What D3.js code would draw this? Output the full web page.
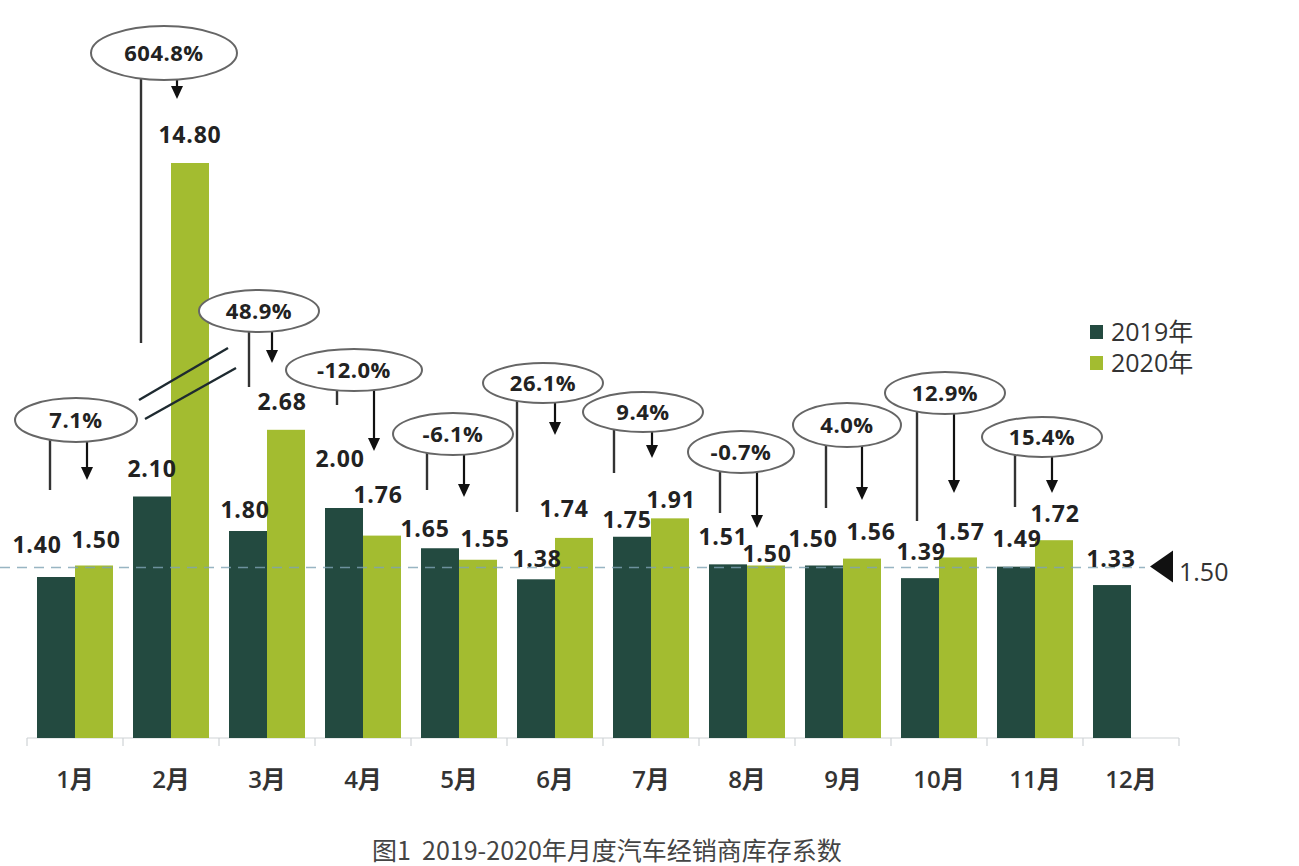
<!DOCTYPE html>
<html><head><meta charset="utf-8">
<script src="https://cdn.jsdelivr.net/npm/d3@7"></script>
<style>
html,body{margin:0;padding:0;background:#fff;}
svg{display:block;}
</style></head>
<body>
<svg id="chart" width="1299" height="866"></svg>
<script>
// ---- data ----
const months = ['1月','2月','3月','4月','5月','6月','7月','8月','9月','10月','11月','12月'];
const series = ['2019年','2020年'];
const values2019 = [1.40, 2.10, 1.80, 2.00, 1.65, 1.38, 1.75, 1.51, 1.50, 1.39, 1.49, 1.33];
const values2020 = [1.50, 14.80, 2.68, 1.76, 1.55, 1.74, 1.91, 1.50, 1.56, 1.57, 1.72];
const yoyChange = ['7.1%','604.8%','48.9%','-12.0%','-6.1%','26.1%','9.4%','-0.7%','4.0%','12.9%','15.4%'];
const referenceValue = 1.50;
const titleText = '图1  2019-2020年月度汽车经销商库存系数';

// ---- layout (hand placement of annotations, as in the reference) ----
const labelNudge2019 = [[-19,-24],[0,-20],[-3,-13],[-4,-41],[-15,-11],[1,-12],[-5,-9],[-5,-19],[-11,-19],[1,-18],[1,-20],[-1,-18]];
const labelNudge2020 = [[2,-18],[0,-20],[-4,-20],[-4,-33],[7,-13],[-10,-21],[1,-10],[1,-4],[9,-19],[2,-17],[1,-18]];
const calloutDx   = [1,-7,-8,-9,-6,-12,-8,-6,4,6,7];
const calloutY    = [420,53,311,370,434,383,412,452,425,393,437];
const calloutRx   = [61,73,60,68,60,60,60,53,54,60,60];
const calloutRy   = [22,27,21,21,21,20,20,21,22,21,20];
const lineDx      = [-25,-30,-18,-26,-32,-38,-37,-27,-17,-22,-20];
const lineEndY    = [490,343,387,405,490,512,473,513,508,521,507];
const arrowDx     = [12,6,5,11,5,0,1,10,19,15,17];
const arrowTipY   = [480,99,363,451,497,435,458,528,500,493,493];

const colors = {'2019年':'#234a40','2020年':'#a3bc30'};
const fontLatin = "'Open Sans','Noto Sans CJK SC',sans-serif";

const svg = d3.select('#chart');

const x = d3.scaleBand().domain(months).range([27, 1179]).paddingInner(0.2083).paddingOuter(0.1042);
const xs = d3.scaleBand().domain(series).range([0, x.bandwidth()]);
// broken value axis: linear up to 3, compressed above
const y = d3.scaleLinear().domain([0, 3, 14.8]).range([738, 393, 163]);

const step = x.step();
const bandCenter = m => x(m) + x.bandwidth()/2;

// axis line and ticks
const axisG = svg.append('g');
axisG.append('line').attr('x1', 27).attr('x2', 1179).attr('y1', y(0)).attr('y2', y(0))
  .attr('stroke', '#cfd3d6').attr('stroke-width', 1.2);
const tickXs = months.map(m => x(m) - (step - x.bandwidth())/2).concat([x(months[months.length-1]) + x.bandwidth() + (step - x.bandwidth())/2]);
axisG.selectAll('line.tick').data(tickXs).join('line').attr('class','tick')
  .attr('x1', d => d).attr('x2', d => d).attr('y1', y(0)).attr('y2', y(0)+8)
  .attr('stroke', '#cfd3d6').attr('stroke-width', 1.2);
axisG.selectAll('text.month').data(months).join('text').attr('class','month')
  .attr('x', d => bandCenter(d)).attr('y', 788).attr('text-anchor','middle')
  .attr('font-family', fontLatin).attr('font-size', 24).attr('font-weight', 600).attr('fill', '#333')
  .text(d => d);

// bars
const barData = [];
values2019.forEach((v,i) => barData.push({s:'2019年', m:months[i], v, i}));
values2020.forEach((v,i) => barData.push({s:'2020年', m:months[i], v, i}));
svg.append('g').selectAll('rect').data(barData).join('rect')
  .attr('x', d => x(d.m) + xs(d.s)).attr('width', xs.bandwidth())
  .attr('y', d => y(d.v)).attr('height', d => y(0) - y(d.v))
  .attr('fill', d => colors[d.s]);

// axis break marks on the 2月 2020 bar
const brk = svg.append('g').attr('stroke', '#1e2a30').attr('stroke-width', 2.4);
brk.append('line').attr('x1', 139).attr('y1', 400).attr('x2', 228).attr('y2', 348);
brk.append('line').attr('x1', 145).attr('y1', 419).attr('x2', 236).attr('y2', 368);

// reference dashed line
svg.append('line').attr('x1', 0).attr('x2', 1145).attr('y1', y(referenceValue)+2).attr('y2', y(referenceValue)+2)
  .attr('stroke', '#7fa3b5').attr('stroke-width', 1.3).attr('stroke-dasharray', '10,7').attr('opacity', 0.8);
svg.append('path')
  .attr('d', `M1150,${y(referenceValue)+1} L1173,${y(referenceValue)-15} L1173,${y(referenceValue)+17} Z`)
  .attr('fill', '#111');
svg.append('text').attr('x', 1179).attr('y', y(referenceValue)+15)
  .attr('font-family', fontLatin).attr('font-size', 25).attr('fill', '#333')
  .text(referenceValue.toFixed(2));

// value labels
const lbl = svg.append('g').attr('font-family', fontLatin).attr('font-size', 23).attr('font-weight', 700)
  .attr('fill', '#222').attr('text-anchor', 'middle').attr('letter-spacing', 0.8);
barData.forEach(d => {
  const nud = d.s === '2019年' ? labelNudge2019[d.i] : labelNudge2020[d.i];
  lbl.append('text')
    .attr('x', x(d.m) + xs(d.s) + xs.bandwidth()/2 + nud[0])
    .attr('y', y(d.v) + nud[1])
    .text(d.v.toFixed(2));
});

// callouts
const co = svg.append('g');
yoyChange.forEach((t, i) => {
  const cx = bandCenter(months[i]);
  const ey = calloutY[i], ry = calloutRy[i];
  const ax = cx + arrowDx[i], tip = arrowTipY[i];
  co.append('line').attr('x1', cx + lineDx[i]).attr('x2', cx + lineDx[i])
    .attr('y1', ey + ry - 2).attr('y2', lineEndY[i]).attr('stroke', '#333').attr('stroke-width', 2.4);
  co.append('line').attr('x1', ax).attr('x2', ax)
    .attr('y1', ey + ry - 2).attr('y2', tip - 10).attr('stroke', '#111').attr('stroke-width', 2.2);
  co.append('path').attr('d', `M${ax},${tip} L${ax-6},${tip-13} L${ax+6},${tip-13} Z`).attr('fill', '#111');
  co.append('ellipse').attr('cx', cx + calloutDx[i]).attr('cy', ey).attr('rx', calloutRx[i]).attr('ry', ry)
    .attr('fill', '#fff').attr('stroke', '#666').attr('stroke-width', 2);
  co.append('text').attr('x', cx + calloutDx[i]).attr('y', ey + 7.5).attr('text-anchor','middle')
    .attr('font-family', fontLatin).attr('font-size', 22).attr('font-weight', 700).attr('fill', '#222')
    .attr('letter-spacing', 0.5).text(t);
});

// legend
const lg = svg.append('g');
series.forEach((s, i) => {
  lg.append('rect').attr('x', 1090).attr('y', 325 + i*31).attr('width', 13).attr('height', 14).attr('fill', colors[s]);
  lg.append('text').attr('x', 1111).attr('y', 341 + i*31).attr('font-family', fontLatin)
    .attr('font-size', 25).attr('fill', '#333').text(s);
});

// title
svg.append('text').attr('x', 372).attr('y', 860).attr('font-family', "'Noto Sans CJK SC',sans-serif")
  .attr('font-size', 25).attr('fill', '#444').attr('xml:space','preserve').style('white-space','pre').text(titleText);
</script>
</body></html>
